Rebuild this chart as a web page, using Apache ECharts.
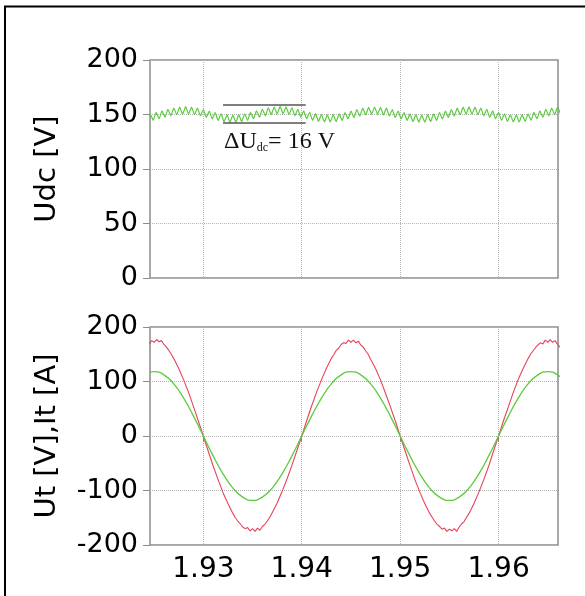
<!DOCTYPE html>
<html>
<head>
<meta charset="utf-8">
<script src="https://cdn.jsdelivr.net/npm/echarts@6/dist/echarts.min.js"></script>
<style>
html,body{margin:0;padding:0;background:#fff;}
#chart{width:585px;height:596px;}
</style>
</head>
<body>
<div id="chart"></div>
<script>
// ---- axis definitions ----
const xRange = [1.92458, 1.96604];
const xTicks = [1.93, 1.94, 1.95, 1.96];
const udcTicks = [0, 50, 100, 150, 200];
const acTicks = [-200, -100, 0, 100, 200];
const udcName = 'Udc [V]';
const acName = 'Ut [V],It [A]';

// ---- top panel: DC-link voltage Udc ----
const udcTime = [
  1.9243,
  1.9246,1.9249,1.9252,1.9255,1.9258,1.9261,1.9264,1.9267,1.9270,1.9273,
  1.9276,1.9279,1.9282,1.9285,1.9288,1.9291,1.9294,1.9297,1.9300,1.9303,
  1.9306,1.9309,1.9312,1.9315,1.9318,1.9321,1.9324,1.9327,1.9330,1.9333,
  1.9336,1.9339,1.9342,1.9345,1.9348,1.9351,1.9354,1.9357,1.9360,1.9363,
  1.9366,1.9369,1.9372,1.9375,1.9378,1.9381,1.9384,1.9387,1.9390,1.9393,
  1.9396,1.9399,1.9402,1.9405,1.9408,1.9411,1.9414,1.9417,1.9420,1.9423,
  1.9426,1.9429,1.9432,1.9435,1.9438,1.9441,1.9444,1.9447,1.9450,1.9453,
  1.9456,1.9459,1.9462,1.9465,1.9468,1.9471,1.9474,1.9477,1.9480,1.9483,
  1.9486,1.9489,1.9492,1.9495,1.9498,1.9501,1.9504,1.9507,1.9510,1.9513,
  1.9516,1.9519,1.9522,1.9525,1.9528,1.9531,1.9534,1.9537,1.9540,1.9543,
  1.9546,1.9549,1.9552,1.9555,1.9558,1.9561,1.9564,1.9567,1.9570,1.9573,
  1.9576,1.9579,1.9582,1.9585,1.9588,1.9591,1.9594,1.9597,1.9600,1.9603,
  1.9606,1.9609,1.9612,1.9615,1.9618,1.9621,1.9624,1.9627,1.9630,1.9633,
  1.9636,1.9639,1.9642,1.9645,1.9648,1.9651,1.9654,1.9657,1.9660,1.9663
];
const udcVolt = [
  143.6,
  150.7,144.6,151.9,146.0,153.3,147.4,154.7,148.8,155.9,149.8,
  156.7,150.3,157.2,150.4,156.8,149.8,155.9,148.8,154.6,147.4,
  153.2,146.0,151.8,144.5,150.6,143.4,149.8,142.8,149.5,142.9,
  149.8,143.5,150.7,144.6,152.0,146.1,153.4,147.5,154.8,148.9,
  156.0,149.9,156.9,150.5,157.5,150.6,157.0,150.0,156.1,148.9,
  154.8,147.5,153.4,146.1,152.0,144.7,150.8,143.7,150.0,143.2,
  149.6,143.1,149.8,143.5,150.6,144.5,151.8,145.9,153.2,147.3,
  154.6,148.7,155.8,149.7,156.6,150.2,156.9,150.2,156.6,149.7,
  155.8,148.7,154.6,147.3,153.2,145.9,151.8,144.5,150.6,143.5,
  149.8,143.0,149.5,143.0,149.8,143.5,150.6,144.5,151.8,145.9,
  153.2,147.3,154.6,148.7,155.8,149.7,156.7,150.3,157.0,150.3,
  156.7,149.8,155.9,148.8,154.7,147.4,153.3,146.0,151.9,144.6,
  150.7,143.6,149.9,143.1,149.6,143.1,149.9,143.6,150.7,144.6,
  151.9,146.0,153.3,147.4,154.7,148.8,155.9,149.8,156.7,150.3
];
// ripple-band marker lines (value levels and extent)
const deltaLevels = [158.7, 142.0];
const deltaSpan = [1.9320, 1.9404];

// ---- bottom panel: terminal voltage Ut (red) and current It (green) ----
const utPoints = [
  [1.9240,166],[1.92425,171],[1.9245,169],[1.92475,175],[1.9250,172],[1.92525,177],[1.9255,173],[1.92575,175],
  [1.9260,168],[1.92625,163],[1.9265,157],[1.92675,150],[1.9270,142],[1.9275,124],[1.9280,103],[1.9285,80],
  [1.9290,54],[1.9295,27],[1.9300,0],
  [1.9305,-28],[1.9310,-55],[1.9315,-80],[1.9320,-104],[1.9325,-124],[1.9330,-142],[1.93325,-150],[1.9335,-156],
  [1.93375,-161],[1.9340,-167],[1.93425,-170],[1.9345,-168],[1.93475,-174],[1.9350,-170],[1.93525,-175],[1.9355,-169],
  [1.93575,-173],[1.9360,-166],[1.93625,-162],[1.9365,-156],[1.93675,-149],[1.9370,-141],[1.9375,-123],[1.9380,-102],
  [1.9385,-79],[1.9390,-54],[1.9395,-27],[1.9400,0],
  [1.9405,28],[1.9410,55],[1.9415,80],[1.9420,103],[1.9425,124],[1.9430,142],[1.94325,149],[1.9435,157],
  [1.94375,161],[1.9440,168],[1.94425,171],[1.9445,170],[1.94475,176],[1.9450,172],[1.94525,176],[1.9455,171],
  [1.94575,174],[1.9460,167],[1.94625,163],[1.9465,156],[1.94675,150],[1.9470,141],[1.9475,124],[1.9480,103],
  [1.9485,79],[1.9490,54],[1.9495,28],[1.9500,0],
  [1.9505,-27],[1.9510,-54],[1.9515,-80],[1.9520,-103],[1.9525,-124],[1.9530,-142],[1.95325,-149],[1.9535,-156],
  [1.95375,-162],[1.9540,-166],[1.95425,-171],[1.9545,-169],[1.95475,-175],[1.9550,-171],[1.95525,-174],[1.9555,-170],
  [1.95575,-175],[1.9560,-167],[1.95625,-161],[1.9565,-157],[1.95675,-149],[1.9570,-142],[1.9575,-124],[1.9580,-103],
  [1.9585,-80],[1.9590,-55],[1.9595,-27],[1.9600,0],
  [1.9605,28],[1.9610,54],[1.9615,80],[1.9620,104],[1.9625,124],[1.9630,142],[1.96325,150],[1.9635,156],
  [1.96375,162],[1.9640,167],[1.96425,171],[1.9645,169],[1.96475,176],[1.9650,172],[1.96525,177],[1.9655,172],
  [1.96575,175],[1.9660,168],[1.96625,163],[1.9665,157]
];
const itTime = [
  1.924,1.925,1.926,1.927,1.928,1.929,1.930,1.931,1.932,1.933,
  1.934,1.935,1.936,1.937,1.938,1.939,1.940,1.941,1.942,1.943,
  1.944,1.945,1.946,1.947,1.948,1.949,1.950,1.951,1.952,1.953,
  1.954,1.955,1.956,1.957,1.958,1.959,1.960,1.961,1.962,1.963,
  1.964,1.965,1.966,1.967
];
const itAmp = [
  112.2,118,112.2,95.5,69.4,36.5,0,-36.5,-69.4,-95.5,
  -112.2,-118,-112.2,-95.5,-69.4,-36.5,0,36.5,69.4,95.5,
  112.2,118,112.2,95.5,69.4,36.5,0,-36.5,-69.4,-95.5,
  -112.2,-118,-112.2,-95.5,-69.4,-36.5,0,36.5,69.4,95.5,
  112.2,118,112.2,95.5
];

// ---- styles ----
const FONT = 'DejaVu Sans';
const GREEN = '#5ccb3e';
const RED = '#e6435a';
const FRAME = '#8c8c8c';
const GRIDLINE = '#b4b4b4';

const chart = echarts.init(document.getElementById('chart'), null, {renderer: 'canvas'});

function xAxisCfg(gi, showLabels) {
  return {
    gridIndex: gi, type: 'value', min: xRange[0], max: xRange[1],
    axisLine: {show: false},
    axisTick: {show: showLabels, customValues: xTicks, length: 6, lineStyle: {color: FRAME, width: 1}},
    axisLabel: {show: showLabels, customValues: xTicks, fontFamily: FONT, fontSize: 28, color: '#000', margin: 11,
      formatter: v => v.toFixed(2)},
    splitLine: {show: true, lineStyle: {type: 'dotted', color: GRIDLINE, width: 1}}
  };
}
function yAxisCfg(gi, ticks, name) {
  return {
    gridIndex: gi, type: 'value', min: ticks[0], max: ticks[ticks.length - 1], interval: ticks[1] - ticks[0],
    name: name, nameLocation: 'middle', nameRotate: 90, nameGap: 88,
    nameTextStyle: {fontFamily: FONT, fontSize: 29, color: '#000'},
    axisLine: {show: false},
    axisTick: {show: true, length: 7, lineStyle: {color: FRAME, width: 1}},
    axisLabel: {fontFamily: FONT, fontSize: 27, color: '#000', margin: 12},
    splitLine: {show: true, lineStyle: {type: 'dotted', color: GRIDLINE, width: 1}}
  };
}

const option = {
  animation: false,
  backgroundColor: '#fff',
  grid: [
    {left: 150, top: 60, width: 408, height: 218, show: true, borderColor: FRAME, borderWidth: 1.5, backgroundColor: 'transparent'},
    {left: 150, top: 327, width: 408, height: 218, show: true, borderColor: FRAME, borderWidth: 1.5, backgroundColor: 'transparent'}
  ],
  xAxis: [xAxisCfg(0, false), xAxisCfg(1, true)],
  yAxis: [yAxisCfg(0, udcTicks, udcName), yAxisCfg(1, acTicks, acName)],
  series: [
    {
      type: 'line', xAxisIndex: 0, yAxisIndex: 0, showSymbol: false, smooth: 0.15,
      lineStyle: {color: GREEN, width: 1.2}, itemStyle: {color: GREEN},
      data: udcTime.map((t, i) => [t, udcVolt[i]]),
      markLine: {
        silent: true, symbol: ['none', 'none'], label: {show: false},
        lineStyle: {color: '#555', width: 1.6, type: 'solid'},
        data: deltaLevels.map(v => [{coord: [deltaSpan[0], v]}, {coord: [deltaSpan[1], v]}])
      }
    },
    {
      type: 'line', xAxisIndex: 1, yAxisIndex: 1, showSymbol: false,
      lineStyle: {color: RED, width: 1.1}, itemStyle: {color: RED},
      data: utPoints
    },
    {
      type: 'line', xAxisIndex: 1, yAxisIndex: 1, showSymbol: false, smooth: true,
      lineStyle: {color: GREEN, width: 1.3}, itemStyle: {color: GREEN},
      data: itTime.map((t, i) => [t, itAmp[i]])
    }
  ]
};
chart.setOption(option);

// annotation text placed through the top grid's scales
const anchor = chart.convertToPixel({gridIndex: 0}, [deltaSpan[0] + 0.0001, 126]);
chart.setOption({
  graphic: [
    {type: 'rect', silent: true, z: 100,
      shape: {x: 5, y: 6.5, width: 700, height: 700},
      style: {fill: 'none', stroke: '#000', lineWidth: 2}},
    {type: 'text', silent: true, z: 100, x: anchor[0], y: anchor[1],
      style: {
        text: '{a|ΔU}{b|dc}{a|= 16 V}',
        verticalAlign: 'middle', align: 'left',
        rich: {
          a: {fontFamily: 'Liberation Serif', fontSize: 24, lineHeight: 27, fill: '#111', verticalAlign: 'bottom'},
          b: {fontFamily: 'Liberation Serif', fontSize: 12, lineHeight: 17, fill: '#111', verticalAlign: 'bottom'}
        }
      }}
  ]
});
</script>
</body>
</html>
